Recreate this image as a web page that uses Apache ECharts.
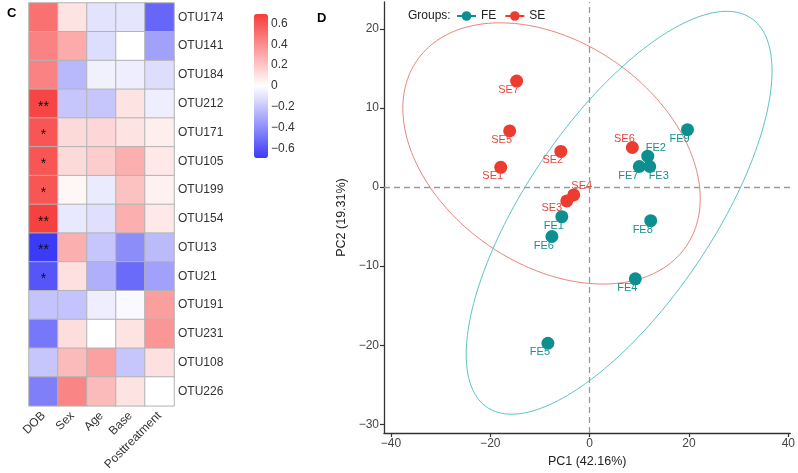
<!DOCTYPE html>
<html>
<head>
<meta charset="utf-8">
<script src="https://cdn.jsdelivr.net/npm/echarts@6/dist/echarts.min.js"></script>
<style>html,body{margin:0;padding:0;background:#fff}#c{width:798px;height:473px}</style>
</head>
<body>
<div id="c"></div>
<script>
// ---------- Heatmap data ----------
const hmCols = ['DOB', 'Sex', 'Age', 'Base', 'Posttreatment'];
const hmRows = ['OTU174','OTU141','OTU184','OTU212','OTU171','OTU105','OTU199','OTU154','OTU13','OTU21','OTU191','OTU231','OTU108','OTU226'];
const hmValues = [
  [ 0.50,  0.10, -0.10, -0.09, -0.54],
  [ 0.44,  0.30, -0.12,  0.00, -0.33],
  [ 0.44, -0.25, -0.05, -0.06, -0.12],
  [ 0.66, -0.20, -0.20,  0.10, -0.06],
  [ 0.60,  0.13,  0.14,  0.10,  0.06],
  [ 0.60,  0.13,  0.18,  0.28,  0.08],
  [ 0.60,  0.03, -0.07,  0.22,  0.05],
  [ 0.67, -0.08, -0.11,  0.28,  0.08],
  [-0.69,  0.28, -0.20, -0.40, -0.24],
  [-0.60,  0.11, -0.28, -0.52, -0.33],
  [-0.21, -0.21, -0.06, -0.02,  0.34],
  [-0.48,  0.12,  0.00,  0.10,  0.37],
  [-0.20,  0.24,  0.33, -0.20,  0.11],
  [-0.45,  0.43,  0.24,  0.10,  0.00]
];
const hmSig = [
  ['', '', '', '', ''],
  ['', '', '', '', ''],
  ['', '', '', '', ''],
  ['**', '', '', '', ''],
  ['*', '', '', '', ''],
  ['*', '', '', '', ''],
  ['*', '', '', '', ''],
  ['**', '', '', '', ''],
  ['**', '', '', '', ''],
  ['*', '', '', '', ''],
  ['', '', '', '', ''],
  ['', '', '', '', ''],
  ['', '', '', '', ''],
  ['', '', '', '', '']
];
const colorbarTicks = [-0.6, -0.4, -0.2, 0, 0.2, 0.4, 0.6];

// ---------- PCA data ----------
const seNames = ['SE1','SE2','SE3','SE4','SE5','SE6','SE7'];
const seX = [-17.9, -5.8, -4.6, -3.2, -16.1, 8.6, -14.7];
const seY = [2.5, 4.5, -1.75, -1.0, 7.1, 5.0, 13.4];
const feNames = ['FE1','FE2','FE3','FE4','FE5','FE6','FE7','FE8','FE9'];
const feX = [-5.6, 11.7, 12.1, 9.2, -8.4, -7.6, 10.0, 12.3, 19.7];
const feY = [-3.75, 3.9, 2.6, -11.6, -19.75, -6.25, 2.6, -4.25, 7.25];
const pcXTicks = [-40, -20, 0, 20, 40];
const pcYTicks = [-30, -20, -10, 0, 10, 20];

// label placement (ggrepel-like offsets), style only
const labelOffset = { SE6: [-8, -9], SE4: [8, -9], SE3: [-15, 7], FE2: [8, -8], FE3: [9, 9], FE7: [-11, 9] };
const defaultOffset = [-8, 9];

const FONT = 'Liberation Sans, Arial, Helvetica, sans-serif';
const minus = v => String(v).replace('-', '\u2212');

// heatmap series data
const hmData = [];
hmRows.forEach((r, i) => hmCols.forEach((c, j) => hmData.push([j, i, hmValues[i][j], hmSig[i][j]])));

// 95% normal data ellipse (as ggplot stat_ellipse type = "norm")
function ellipse(xs, ys, level) {
  const n = xs.length;
  const mx = xs.reduce((a, b) => a + b, 0) / n;
  const my = ys.reduce((a, b) => a + b, 0) / n;
  let sxx = 0, syy = 0, sxy = 0;
  for (let i = 0; i < n; i++) {
    sxx += (xs[i] - mx) ** 2; syy += (ys[i] - my) ** 2; sxy += (xs[i] - mx) * (ys[i] - my);
  }
  sxx /= (n - 1); syy /= (n - 1); sxy /= (n - 1);
  const d2 = n - 1;
  const fq = (d2 / 2) * (Math.pow(1 - level, -2 / d2) - 1); // qf(level, 2, n-1)
  const rad = Math.sqrt(2 * fq);
  const r11 = Math.sqrt(sxx), r12 = sxy / r11, r22 = Math.sqrt(syy - r12 * r12);
  const pts = [];
  for (let k = 0; k <= 200; k++) {
    const t = 2 * Math.PI * k / 200;
    const c = Math.cos(t), s = Math.sin(t);
    pts.push([mx + rad * c * r11, my + rad * (c * r12 + s * r22)]);
  }
  return pts;
}

const SE_COL = '#EE3B30', FE_COL = '#0E8F8F';
const SE_TXT = '#E2483F', FE_TXT = '#16918F';
const SE_ELL = '#E8857B', FE_ELL = '#5CC4C4';

function pts(names, xs, ys) {
  return names.map((nm, i) => ({
    name: nm, value: [xs[i], ys[i]],
    label: { offset: labelOffset[nm] || defaultOffset }
  }));
}

const chart = echarts.init(document.getElementById('c'), null, { renderer: 'canvas' });
chart.setOption({
  backgroundColor: '#fff',
  animation: false,
  textStyle: { fontFamily: FONT },
  title: [
    { text: 'C', left: 2, top: 2, textStyle: { fontSize: 13, fontWeight: 'bold', color: '#000', fontFamily: FONT } },
    { text: 'D', left: 312, top: 7, textStyle: { fontSize: 13, fontWeight: 'bold', color: '#000', fontFamily: FONT } },
    { text: 'Groups:', left: 403, top: 5, textStyle: { fontSize: 12, fontWeight: 'normal', color: '#222', fontFamily: FONT } }
  ],
  legend: {
    data: ['FE', 'SE'], left: 451, top: 5, itemWidth: 19, itemHeight: 12, itemGap: 8,
    textStyle: { fontSize: 12, color: '#222', fontFamily: FONT },
    lineStyle: { width: 2, opacity: 1 }, selectedMode: false
  },
  grid: [
    { left: 29, top: 3, width: 145, height: 407 },
    { left: 384, top: 2, width: 407, height: 436 },
    { left: 254, top: 14, width: 14, height: 144 }
  ],
  xAxis: [
    { type: 'category', gridIndex: 0, data: hmCols, position: 'bottom',
      axisLine: { show: false }, axisTick: { show: false }, splitLine: { show: false },
      axisLabel: { rotate: 45, fontSize: 12, color: '#333', margin: 8, interval: 0 } },
    { type: 'value', gridIndex: 1, min: -41.4, max: 40.4, splitLine: { show: false },
      axisLine: { onZero: false, lineStyle: { color: '#333', width: 1.3 } },
      axisTick: { length: 4, lineStyle: { color: '#333', width: 1.2 }, customValues: pcXTicks },
      axisLabel: { customValues: pcXTicks, formatter: minus, fontSize: 12, color: '#444', margin: 5 },
      name: 'PC1 (42.16%)', nameLocation: 'middle', nameGap: 22,
      nameTextStyle: { fontSize: 12.5, color: '#222' } },
    { type: 'value', gridIndex: 2, show: false, min: 0, max: 1 }
  ],
  yAxis: [
    { type: 'category', gridIndex: 0, data: hmRows, inverse: true, position: 'right',
      axisLine: { show: false }, axisTick: { show: false }, splitLine: { show: false },
      axisLabel: { fontSize: 12, color: '#333', margin: 4, interval: 0 } },
    { type: 'value', gridIndex: 1, min: -31.1, max: 23.4, splitLine: { show: false },
      axisLine: { onZero: false, lineStyle: { color: '#333', width: 1.3 } },
      axisTick: { length: 4, lineStyle: { color: '#333', width: 1.2 }, customValues: pcYTicks },
      axisLabel: { customValues: pcYTicks, formatter: minus, fontSize: 12, color: '#444', margin: 5 },
      name: 'PC2 (19.31%)', nameLocation: 'middle', nameGap: 30, nameRotate: 90,
      nameTextStyle: { fontSize: 12.5, color: '#222' } },
    { type: 'value', gridIndex: 2, min: -0.69, max: 0.69, position: 'right',
      axisLine: { show: false }, axisTick: { show: false }, splitLine: { show: false },
      axisLabel: { customValues: colorbarTicks, formatter: v => minus(v), fontSize: 12, color: '#333', margin: 3 } }
  ],
  visualMap: {
    type: 'continuous', seriesIndex: 0, min: -0.69, max: 0.69, dimension: 2,
    left: 254, top: 14, itemWidth: 14, itemHeight: 144, padding: 0,
    calculable: false, text: ['', ''], showLabel: false,
    inRange: { color: ['#3B3BF7', '#FFFFFF', '#F73B3B'] }
  },
  series: [
    { type: 'heatmap', xAxisIndex: 0, yAxisIndex: 0, data: hmData,
      itemStyle: { borderColor: '#B3B3B3', borderWidth: 1 },
      label: { show: true, formatter: p => p.data[3], fontSize: 14, color: '#111', offset: [0, 3] },
      emphasis: { disabled: true } },
    { type: 'line', name: 'SE ellipse', xAxisIndex: 1, yAxisIndex: 1, data: ellipse(seX, seY, 0.95),
      showSymbol: false, smooth: false, lineStyle: { color: SE_ELL, width: 1 }, silent: true, z: 2,
      markLine: { silent: true, symbol: 'none', label: { show: false },
        lineStyle: { color: '#9A9A9A', type: [6, 4], width: 1.3 },
        data: [{ xAxis: 0 }, { yAxis: 0 }] } },
    { type: 'line', name: 'FE ellipse', xAxisIndex: 1, yAxisIndex: 1, data: ellipse(feX, feY, 0.95),
      showSymbol: false, smooth: false, lineStyle: { color: FE_ELL, width: 1 }, silent: true, z: 2 },
    { type: 'line', name: 'FE', xAxisIndex: 1, yAxisIndex: 1, data: pts(feNames, feX, feY),
      symbol: 'circle', symbolSize: 13, showSymbol: true, itemStyle: { color: FE_COL },
      lineStyle: { color: FE_COL, opacity: 0, width: 1 }, z: 4,
      label: { show: true, position: 'inside', formatter: p => p.name, fontSize: 11, color: FE_TXT } },
    { type: 'line', name: 'SE', xAxisIndex: 1, yAxisIndex: 1, data: pts(seNames, seX, seY),
      symbol: 'circle', symbolSize: 13, showSymbol: true, itemStyle: { color: SE_COL },
      lineStyle: { color: SE_COL, opacity: 0, width: 1 }, z: 4,
      label: { show: true, position: 'inside', formatter: p => p.name, fontSize: 11, color: SE_TXT } }
  ]
});
</script>
</body>
</html>
